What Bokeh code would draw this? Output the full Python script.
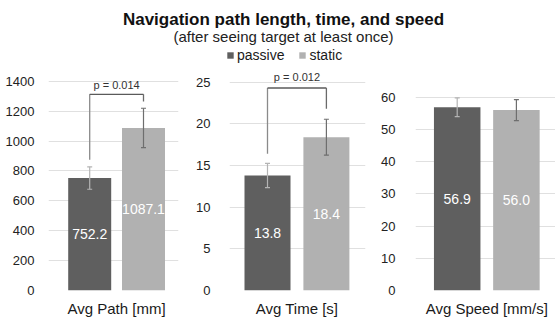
from bokeh.plotting import figure
from bokeh.models import (Range1d, FixedTicker, ColumnDataSource, Whisker, TeeHead,
                          Legend, LegendItem)
from bokeh.layouts import column, row
from bokeh.core.properties import value
from bokeh.embed import file_html
from bokeh.resources import INLINE

# ---------------- data ----------------
title_text = "Navigation path length, time, and speed"
subtitle_text = "(after seeing target at least once)"
categories = ["Avg Path [mm]", "Avg Time [s]", "Avg Speed [mm/s]"]
series_names = ["passive", "static"]
passive_means = [752.2, 13.8, 56.9]
static_means = [1087.1, 18.4, 56.0]
passive_err = [75.0, 1.45, 2.9]
static_err = [132.0, 2.15, 3.25]
y_ticks = [[0, 200, 400, 600, 800, 1000, 1200, 1400],
           [0, 5, 10, 15, 20, 25],
           [0, 10, 20, 30, 40, 50, 60]]
p_labels = ["p = 0.014", "p = 0.012", None]
bracket_top = [1312, 24.3, None]
bracket_left_bottom = [874, 16.4, None]
bracket_right_bottom = [1264, 21.8, None]
p_label_y = [1376, 25.6, None]

# ---------------- style / layout ----------------
PASSIVE_COLOR = "#5f5f5f"
STATIC_COLOR = "#b1b1b1"
PASSIVE_ERR_COLOR = "#b4b4b4"
STATIC_ERR_COLOR = "#6e6e6e"
GRID_COLOR = "#e0e0e0"
FONT = "Liberation Sans"

HEADER_H = 68
PANEL_H = 252
panel_widths = [183, 185, 187]
panel_left = [48, 46, 47]
panel_right = [5, 3, 0]
x_ranges = [(-68, 62), (-67.5, 68.5), (-71.3, 68.7)]
bar_offsets = [(-26.8, 27.0), (-29.5, 29.4), (-29.6, 29.6)]
bar_widths = [43, 46, 46.5]
y_ends = [1471.6, 26.40, 68.29]
tick_standoff = [8, 13, 14]


def make_panel(i):
    p = figure(width=panel_widths[i], height=PANEL_H, output_backend="svg",
               toolbar_location=None,
               x_range=Range1d(*x_ranges[i]), y_range=Range1d(0, y_ends[i]),
               min_border_left=panel_left[i], min_border_right=panel_right[i],
               min_border_top=2, min_border_bottom=30)
    p.outline_line_color = None
    p.background_fill_color = "white"
    p.border_fill_color = "white"
    p.xgrid.visible = False
    p.ygrid.grid_line_color = GRID_COLOR
    p.ygrid.grid_line_width = 1

    p.yaxis.ticker = FixedTicker(ticks=y_ticks[i])
    p.yaxis.axis_line_color = None
    p.yaxis.major_tick_line_color = None
    p.yaxis.minor_tick_line_color = None
    p.yaxis.major_label_standoff = tick_standoff[i]
    p.yaxis.major_label_text_font = FONT
    p.yaxis.major_label_text_font_size = "13px"
    p.yaxis.major_label_text_color = "#222222"

    p.xaxis.ticker = FixedTicker(ticks=[0])
    p.xaxis.major_label_overrides = {0: categories[i]}
    p.xaxis.axis_line_color = None
    p.xaxis.major_tick_line_color = None
    p.xaxis.major_tick_out = 0
    p.xaxis.major_tick_in = 0
    p.xaxis.minor_tick_line_color = None
    p.xaxis.minor_tick_out = 0
    p.xaxis.major_label_standoff = 9
    p.xaxis.major_label_text_line_height = 1.0
    p.xaxis.major_label_text_font = FONT
    p.xaxis.major_label_text_font_size = "15px"
    p.xaxis.major_label_text_color = "#1a1a1a"

    means = [passive_means[i], static_means[i]]
    errs = [passive_err[i], static_err[i]]
    xs = list(bar_offsets[i])
    src = ColumnDataSource(dict(
        x=xs, top=means, color=[PASSIVE_COLOR, STATIC_COLOR],
        mid=[m / 2 for m in means], label=[f"{m:.1f}" for m in means]))
    p.vbar(x="x", top="top", width=bar_widths[i], fill_color="color",
           line_color=None, source=src)
    p.text(x="x", y="mid", text="label", source=src, text_color="white",
           text_align="center", text_baseline="middle",
           text_font=value(FONT), text_font_size="14px")

    for k, ecol in enumerate([PASSIVE_ERR_COLOR, STATIC_ERR_COLOR]):
        esrc = ColumnDataSource(dict(x=[xs[k]], upper=[means[k] + errs[k]],
                                     lower=[means[k] - errs[k]]))
        w = Whisker(base="x", upper="upper", lower="lower", source=esrc,
                    line_color=ecol, line_width=1.2, level="annotation",
                    upper_head=TeeHead(size=5, line_color=ecol, line_width=1.2),
                    lower_head=TeeHead(size=5, line_color=ecol, line_width=1.2))
        p.add_layout(w)

    if p_labels[i] is not None:
        xl, xr = xs
        top = bracket_top[i]
        p.segment(x0=[xl, xl, xr], y0=[bracket_left_bottom[i], top, top],
                  x1=[xl, xr, xr], y1=[top, top, bracket_right_bottom[i]],
                  line_color=["#8a8a8a", "#5a5a5a", "#6a6a6a"], line_width=1.3)
        p.text(x=[(xl + xr) / 2], y=[p_label_y[i]], text=[p_labels[i]],
               text_align="center", text_baseline="middle",
               text_font=value(FONT), text_font_size="11px",
               text_color="#333333")
    return p


panels = [make_panel(i) for i in range(3)]

# ---------------- header: title, subtitle, legend ----------------
hdr = figure(width=sum(panel_widths), height=HEADER_H,
             x_range=Range1d(0, sum(panel_widths)), y_range=Range1d(HEADER_H, 0),
             x_axis_location=None, y_axis_location=None, output_backend="svg",
             toolbar_location=None, min_border_left=0, min_border_right=0,
             min_border_top=0, min_border_bottom=0)
hdr.grid.visible = False
hdr.outline_line_color = None
hdr.text(x=[283], y=[19], text=[title_text], text_align="center",
         text_baseline="middle", text_font=value(FONT), text_font_size="17px",
         text_font_style="bold", text_color="#111111")
hdr.text(x=[283], y=[36], text=[subtitle_text], text_align="center",
         text_baseline="middle", text_font=value(FONT), text_font_size="15px",
         text_color="#222222")
# zero-height swatch renderers, used only to feed the legend
r_pass = hdr.vbar(x=[0], top=[0], bottom=[0], width=0,
                  fill_color=PASSIVE_COLOR, line_color=None)
r_stat = hdr.vbar(x=[0], top=[0], bottom=[0], width=0,
                  fill_color=STATIC_COLOR, line_color=None)
legend = Legend(items=[LegendItem(label=series_names[0], renderers=[r_pass]),
                       LegendItem(label=series_names[1], renderers=[r_stat])],
                orientation="horizontal", location=(226, 5), padding=0, margin=0,
                spacing=14, glyph_width=8, glyph_height=8, label_standoff=3,
                label_height=16, label_text_font=FONT, label_text_font_size="14px",
                label_text_color="#1a1a1a", border_line_color=None,
                background_fill_alpha=0)
hdr.add_layout(legend)

layout = column(hdr, row(*panels))

open("out.html", "w").write(file_html(layout, INLINE))
